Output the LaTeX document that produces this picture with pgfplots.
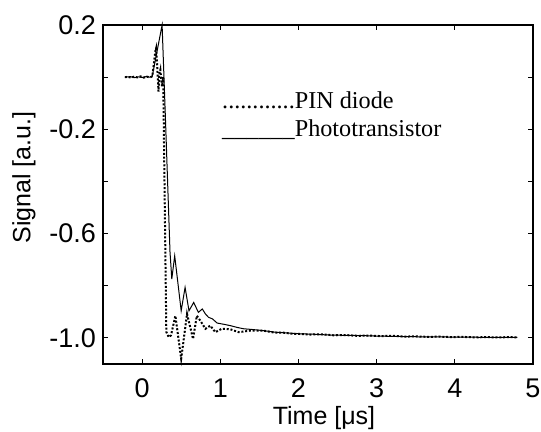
\documentclass[border=0pt]{standalone}
\usepackage{fontspec}
\setmainfont{Liberation Sans}
\newfontfamily\legfont{Liberation Serif}
\usepackage{pgfplots}
\pgfplotsset{compat=1.18}
\begin{document}
\begin{tikzpicture}
\path[use as bounding box] (-51.5pt,-34pt) rectangle (219pt,182pt);
\begin{axis}[
  scale only axis, width=215pt, height=169.5pt,
  xmin=-0.5, xmax=5, ymin=-1.1, ymax=0.2,
  xtick={0,1,2,3,4,5}, xticklabels={0,1,2,3,4,5},
  ytick={-1.0,-0.8,-0.6,-0.4,-0.2,0,0.2},
  yticklabels={-1.0,,-0.6,,-0.2,,0.2},
  tick align=inside, major tick length=2.5pt,
  tick style={black, line width=0.5pt},
  axis line style={line width=0.6pt},
  tick label style={font=\fontsize{13.5}{15}\selectfont},
  xticklabel style={yshift=-4pt},
  label style={font=\fontsize{12.5}{14}\selectfont},
  xlabel={Time [μs]}, ylabel={Signal [a.u.]},
  xlabel style={at={(axis description cs:0.514,-0.16)}, anchor=center},
  ylabel style={at={(axis description cs:-0.184,0.55)}, anchor=center},
  clip=false,
]
% PIN diode
\addplot[black, line width=1pt, dash pattern=on 1pt off 0.9pt] coordinates {
(-0.22,0.000) (-0.18,0.001) (-0.14,-0.002) (-0.10,0.002) (-0.06,-0.001)
(-0.02,0.003) (0.02,-0.002) (0.06,0.002) (0.10,-0.001) (0.13,0.003)
(0.15,0.05) (0.17,0.10) (0.18,0.111) (0.19,0.06) (0.21,-0.055)
(0.22,0.01) (0.234,0.028) (0.245,-0.01) (0.256,-0.036) (0.27,0.0)
(0.31,-0.977) (0.34,-0.997) (0.37,-0.99) (0.426,-0.915) (0.50,-1.08)
(0.575,-0.908) (0.652,-1.004) (0.70,-0.915) (0.745,-0.934) (0.81,-0.965)
(0.873,-0.953) (0.937,-0.978) (1.02,-0.965) (1.13,-0.967) (1.235,-0.978)
(1.385,-0.972) (1.55,-0.972) (1.70,-0.980) (1.81,-0.980) (1.92,-0.984)
(2.02,-0.985) (2.15,-0.987) (2.30,-0.986) (2.45,-0.990) (2.60,-0.989)
(2.75,-0.992) (2.90,-0.991) (3.05,-0.993) (3.20,-0.992) (3.35,-0.995)
(3.50,-0.994) (3.65,-0.996) (3.80,-0.995) (3.95,-0.997) (4.10,-0.996)
(4.25,-0.998) (4.40,-0.997) (4.55,-0.998) (4.70,-0.997) (4.80,-0.998)
};
% Phototransistor
\addplot[black, line width=0.5pt] coordinates {
(-0.22,0.000) (-0.15,0.002) (-0.10,-0.002) (-0.05,0.001) (0.00,-0.001)
(0.05,0.002) (0.10,0.000) (0.13,0.003) (0.256,0.200) (0.30,-0.17)
(0.357,-0.67) (0.38,-0.774) (0.417,-0.685) (0.50,-0.896) (0.55,-0.806)
(0.60,-0.896) (0.66,-0.864) (0.72,-0.902) (0.77,-0.889) (0.81,-0.908)
(0.85,-0.921) (0.90,-0.927) (0.96,-0.943) (1.05,-0.948) (1.13,-0.953)
(1.22,-0.960) (1.30,-0.965) (1.42,-0.968) (1.55,-0.972) (1.70,-0.978)
(1.85,-0.981) (2.00,-0.984) (2.20,-0.986) (2.40,-0.989) (2.60,-0.990)
(2.80,-0.991) (3.00,-0.993) (3.20,-0.994) (3.40,-0.995) (3.60,-0.996)
(3.80,-0.996) (4.00,-0.997) (4.20,-0.997) (4.40,-0.998) (4.60,-0.998)
(4.80,-0.998)
};
\node[anchor=base west, inner sep=0pt, font=\legfont\fontsize{12.1}{14}\selectfont]
  at (axis cs:1.02,-0.122) {............PIN diode};
\node[anchor=base west, inner sep=0pt, font=\legfont\fontsize{12.1}{14}\selectfont]
  at (axis cs:1.02,-0.227) {\_\_\_\_\_\_Phototransistor};
\end{axis}
\end{tikzpicture}
\end{document}
